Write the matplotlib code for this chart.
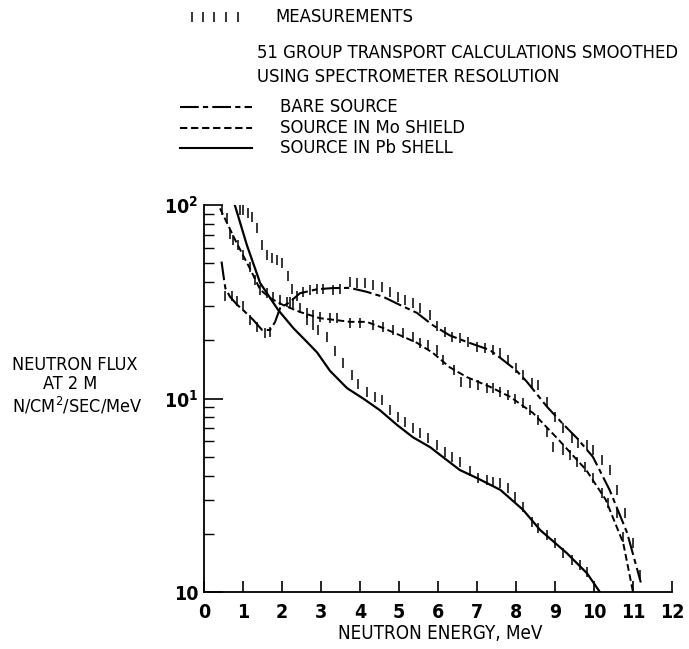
import numpy as np
import matplotlib
matplotlib.use("Agg")
import matplotlib.pyplot as plt
from matplotlib.lines import Line2D

plt.rcParams['font.family'] = ['DejaVu Sans']
plt.rcParams['font.stretch'] = 'condensed'
plt.rcParams['mathtext.default'] = 'regular'

# calculated spectra (MeV, n/cm2/sec/MeV)
bare_x = [0.45, 0.5, 0.55, 0.67, 0.85, 1.0, 1.26, 1.49, 1.69, 1.82, 1.95, 2.2, 2.46, 2.9, 3.3,
          3.74, 4.17, 4.6, 5.03, 5.46, 5.87, 6.3, 6.74, 7.33, 7.6, 8.0, 8.28, 8.8, 9.2, 9.56,
          9.97, 10.4, 10.85, 11.2]
bare_y = [51, 43, 37, 33.5, 30.5, 28.7, 25.5, 22.6, 22.6, 24.8, 29.3, 31.5, 35, 36.7, 37.2,
          37.3, 35.6, 33.5, 30.4, 27.7, 23.9, 21.2, 19.6, 17.8, 16.2, 14.0, 12.2, 9.04, 7.4, 6.25,
          5.0, 3.37, 2.02, 1.12]

mo_x = [0.41, 0.6, 0.8, 1.0, 1.2, 1.44, 1.7, 2.03, 2.46, 2.97, 3.4, 3.74, 4.17, 4.6, 5.03,
        5.46, 5.87, 6.3, 6.74, 7.33, 7.85, 8.44, 9.1, 9.8, 10.3, 10.75, 11.0]
mo_y = [96, 80, 66, 55, 46, 36.5, 33, 30.4, 28, 26, 25.4, 24.9, 24.9, 23.1, 21.2,
        19.4, 17.2, 14.5, 12.9, 11.5, 10.2, 8.4, 6.1, 4.27, 3.0, 1.79, 1.0]

pb_x = [0.79, 1.1, 1.44, 1.9, 2.3, 2.64, 2.9, 3.23, 3.67, 4.08, 4.51, 4.95, 5.36, 5.8, 6.23,
        6.56, 7.0, 7.6, 8.18, 8.62, 9.3, 9.82, 10.15]
pb_y = [100, 62, 39.5, 28.7, 23, 19.6, 17.3, 13.9, 11.3, 10.0, 8.7, 7.3, 6.3, 5.6, 4.8,
        4.27, 3.88, 3.37, 2.66, 2.09, 1.59, 1.25, 1.0]

# measured points
bare_mx = [0.54, 0.72, 0.85, 1.0, 1.18, 1.36, 1.56, 1.69, 2.2, 2.38, 2.54, 2.72, 2.9, 3.05,
           3.3, 3.49, 3.74, 3.92, 4.13, 4.33, 4.56, 4.77, 4.97, 5.15, 5.36, 5.54, 5.8, 5.97,
           6.18, 6.35, 6.56, 6.77, 7.0, 7.2, 7.4, 7.6, 7.8, 8.0, 8.18, 8.4, 8.57, 8.79, 9.0,
           9.2, 9.43, 9.6, 9.82, 9.97, 10.2, 10.4, 10.6, 10.8, 11.0, 11.18]
bare_my = [34, 34, 32, 30, 25.5, 23.4, 21.8, 22, 31.5, 34, 35.5, 36.3, 37, 37,
           36.3, 37, 40, 39.5, 39.5, 38.6, 37.7, 35.5, 33.5, 32.4, 31, 29.3, 27, 23.8,
           22, 20.8, 20.5, 19.6, 18.5, 18.2, 17.8, 17.2, 15.8, 14.4, 13.2, 12.0, 11.7, 9.6, 8.0,
           7.0, 6.25, 5.9, 5.75, 5.4, 4.8, 4.27, 3.37, 2.56, 1.79, 1.22]

mo_mx = [0.46, 0.59, 0.67, 0.75, 0.87, 1.0, 1.18, 1.31, 1.44, 1.62, 1.77, 1.95, 2.13, 2.28,
         2.46, 2.64, 2.8, 2.97, 3.23, 3.41, 3.74, 4.0, 4.33, 4.6, 4.85, 5.1, 5.36, 5.54, 5.74,
         5.97, 6.13, 6.4, 6.6, 6.82, 7.03, 7.25, 7.4, 7.6, 7.8, 7.97, 8.18, 8.36, 8.57, 8.79,
         8.95, 9.2, 9.38, 9.56, 9.77, 9.97, 10.2, 10.36, 10.6, 10.75]
mo_my = [94, 86, 71, 66, 62, 55, 47.8, 41, 36.3, 35, 33.5, 32.4, 31.5, 31,
         29.3, 27.7, 27, 26.4, 26, 26, 24.6, 24.6, 24, 23.4, 22.6, 21.8, 20.8, 19.4, 18.9,
         17.8, 15.8, 14.0, 12.2, 12.0, 11.7, 11.3, 11.3, 10.8, 10.4, 10.0, 9.5, 8.7, 7.7, 6.7,
         5.6, 5.4, 5.1, 4.7, 4.4, 3.9, 3.25, 2.9, 2.56, 1.92]

pb_mx = [0.92, 1.0, 1.13, 1.23, 1.36, 1.49, 1.62, 1.74, 1.87, 2.0, 2.15, 2.26, 2.64, 2.8,
         2.92, 3.15, 3.36, 3.56, 3.8, 3.95, 4.18, 4.38, 4.56, 4.77, 4.97, 5.15, 5.36, 5.54,
         5.74, 5.97, 6.18, 6.36, 6.56, 6.82, 7.03, 7.25, 7.4, 7.6, 7.8, 7.97, 8.18, 8.4, 8.57,
         8.79, 9.0, 9.2, 9.43, 9.64, 9.82]
pb_my = [94, 94, 91, 87, 76, 62, 55, 53, 52, 50, 43, 37, 25.5, 24,
         22.6, 20.8, 17.5, 15.3, 13.2, 11.9, 10.8, 10.2, 9.8, 8.7, 8.0, 7.6, 7.0, 6.6,
         6.25, 5.75, 5.3, 5.0, 4.7, 4.2, 3.9, 3.8, 3.7, 3.65, 3.45, 3.1, 2.75, 2.3, 2.14,
         1.97, 1.79, 1.59, 1.46, 1.38, 1.27]

W, H = 689, 649
fig = plt.figure(figsize=(W / 100, H / 100), dpi=100)
ax = fig.add_axes([204 / W, 1 - 592 / H, 468 / W, 387 / H])

def fp(x, y):
    return x / W, 1 - y / H

bare_ls = (0, (9, 2, 2.5, 2))
mo_ls = (0, (3.5, 1.8))
ax.plot(bare_x, bare_y, color='black', lw=1.5, ls=bare_ls)
ax.plot(mo_x, mo_y, color='black', lw=1.4, ls=mo_ls)
ax.plot(pb_x, pb_y, color='black', lw=1.6, ls='-')
for mx, my in [(bare_mx, bare_my), (mo_mx, mo_my), (pb_mx, pb_my)]:
    ax.plot(mx, my, ls='none', marker='|', ms=6.5, mew=1.1, color='black')

ax.set_yscale('log')
ax.set_xlim(0, 12)
ax.set_ylim(1, 100)
ax.spines['top'].set_visible(False)
ax.spines['right'].set_visible(False)
ax.spines['left'].set_linewidth(1.3)
ax.spines['bottom'].set_linewidth(1.3)

ax.set_xticks(range(0, 13))
ax.set_xticklabels([str(i) for i in range(0, 13)], fontsize=14, fontweight='bold')
ax.tick_params(axis='x', direction='in', length=8, width=1.2, pad=8)
ax.set_yticks([1, 10, 100])
ax.set_yticklabels(['10', '$10^1$', '$10^2$'], fontsize=14, fontweight='bold')
ax.set_yticks([k * d for d in (1, 10) for k in range(2, 10)], minor=True)
ax.set_yticklabels([], minor=True)
ax.tick_params(axis='y', which='major', direction='in', length=14, width=1.2, pad=4)
ax.tick_params(axis='y', which='minor', direction='in', length=7, width=1.0)
ax.set_xlabel('NEUTRON ENERGY, MeV', fontsize=13.5)
ax.xaxis.set_label_coords(236 / 468, -32 / 387)

fig.text(*fp(75, 365), 'NEUTRON FLUX', fontsize=13, ha='center', va='center')
fig.text(*fp(70, 384), 'AT 2 M', fontsize=13, ha='center', va='center')
fig.text(*fp(77, 406), 'N/CM$^2$/SEC/MeV', fontsize=13, ha='center', va='center')

# legend
fig.add_artist(Line2D([fp(x, 17)[0] for x in (192, 203, 214, 226, 238)],
                      [fp(0, 17)[1]] * 5, ls='none', marker='|', ms=6.5, mew=1.1,
                      color='black', transform=fig.transFigure))
fig.text(*fp(275, 17), 'MEASUREMENTS', fontsize=13.2, va='center')
fig.text(*fp(257, 53), '51 GROUP TRANSPORT CALCULATIONS SMOOTHED', fontsize=13.2, va='center')
fig.text(*fp(257, 77), 'USING SPECTROMETER RESOLUTION', fontsize=13.2, va='center')
for yy, ls, label in [(107, bare_ls, 'BARE SOURCE'),
                      (128, mo_ls, 'SOURCE IN Mo SHIELD'),
                      (148, '-', 'SOURCE IN Pb SHELL')]:
    fig.add_artist(Line2D([fp(180, yy)[0], fp(252, yy)[0]], [fp(0, yy)[1]] * 2,
                          color='black', lw=1.5, ls=ls, transform=fig.transFigure))
    fig.text(*fp(280, yy), label, fontsize=13.2, va='center')

fig.savefig('out.png', dpi=100)
